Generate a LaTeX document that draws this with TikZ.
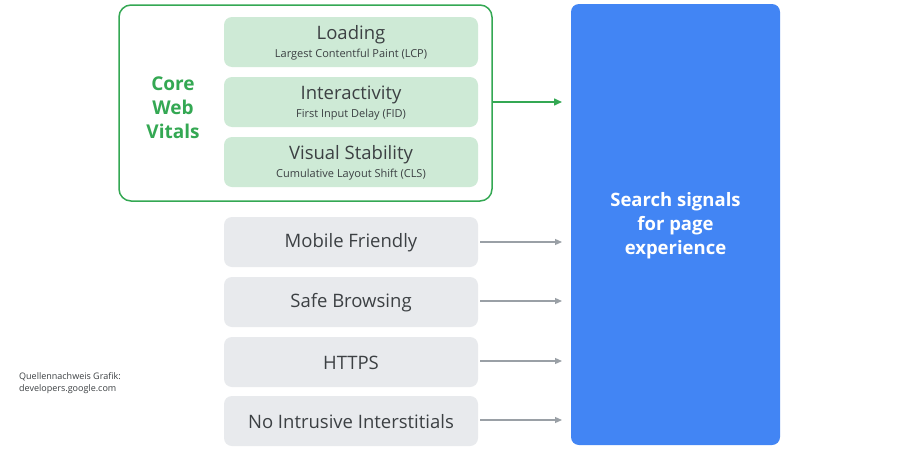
\documentclass[tikz,border=0pt]{standalone}
\usepackage{fontspec}
\setmainfont{Open Sans}
\usetikzlibrary{arrows.meta}
\definecolor{gfill}{HTML}{CEEAD6}
\definecolor{gline}{HTML}{34A853}
\definecolor{gblue}{HTML}{4285F4}
\definecolor{grey}{HTML}{E8EAED}
\definecolor{txt}{HTML}{3C4043}
\definecolor{arr}{HTML}{9AA0A6}
\newcommand{\myttl}{\fontsize{18.5}{20}\selectfont}
\newcommand{\mysub}{\fontsize{11}{13}\selectfont}
\begin{document}
\begin{tikzpicture}[x=1pt,y=-1pt,
 box/.style={rounded corners=8pt,minimum width=254pt,minimum height=50pt,inner sep=0pt,fill=#1},
 lbl/.style={text=txt,align=center,inner sep=0pt},
 garr/.style={draw=gline,line width=1.5pt,-{Triangle[length=8pt,width=7pt]}},
 parr/.style={draw=arr,line width=1.2pt,-{Triangle[length=7pt,width=6pt]}}]
\useasboundingbox (0,0) rectangle (900,450);
\fill[white] (0,0) rectangle (900,450);
\node[draw=gline,line width=1.5pt,rounded corners=12pt,minimum width=373pt,minimum height=196pt,inner sep=0pt] (cw) at (305.5,103) {};
\node[text=gline,font=\bfseries\fontsize{19}{24}\selectfont,align=center] (cwl) at (173,108) {Core\\Web\\Vitals};
\foreach \n/\y/\t/\s in {l/42/Loading/Largest Contentful Paint (LCP),i/102/Interactivity/First Input Delay (FID),v/162/Visual Stability/Cumulative Layout Shift (CLS)}{
 \node[box=gfill] (\n) at (351,\y) {};
 \node[lbl,font=\myttl] (\n t) at (351,\y-7) {\t};
 \node[lbl,font=\mysub] (\n s) at (351,\y+13) {\s};
}
\foreach \n/\y/\t in {m/242/Mobile Friendly,s/302/Safe Browsing,h/362/HTTPS,n/421/No Intrusive Interstitials}{
 \node[box=grey] (\n) at (351,\y) {};
 \node[lbl,font=\fontsize{18.5}{22}\selectfont] (\n t) at (351,\y+1) {\t};
}
\node[fill=gblue,rounded corners=8pt,minimum width=209pt,minimum height=441pt,inner sep=0pt] (b) at (675.5,224.5) {};
\node[text=white,font=\bfseries\fontsize{18.5}{24}\selectfont,align=center] (bt) at (675.5,226) {Search signals\\for page\\experience};
\coordinate (t0) at (562,102);
\draw[garr] (cw.east |- t0) -- (t0);
\foreach \a/\y in {m/242,s/301,h/361,n/420}{
 \coordinate (e\a) at (562,\y);
 \draw[parr] (\a.east |- e\a) ++(2,0) -- (e\a);
}
\node[anchor=north west,text=txt,font=\fontsize{9}{12}\selectfont,align=left,inner sep=0pt] (q) at (19,372) {Quellennachweis Grafik:\\developers.google.com};
\end{tikzpicture}
\end{document}
